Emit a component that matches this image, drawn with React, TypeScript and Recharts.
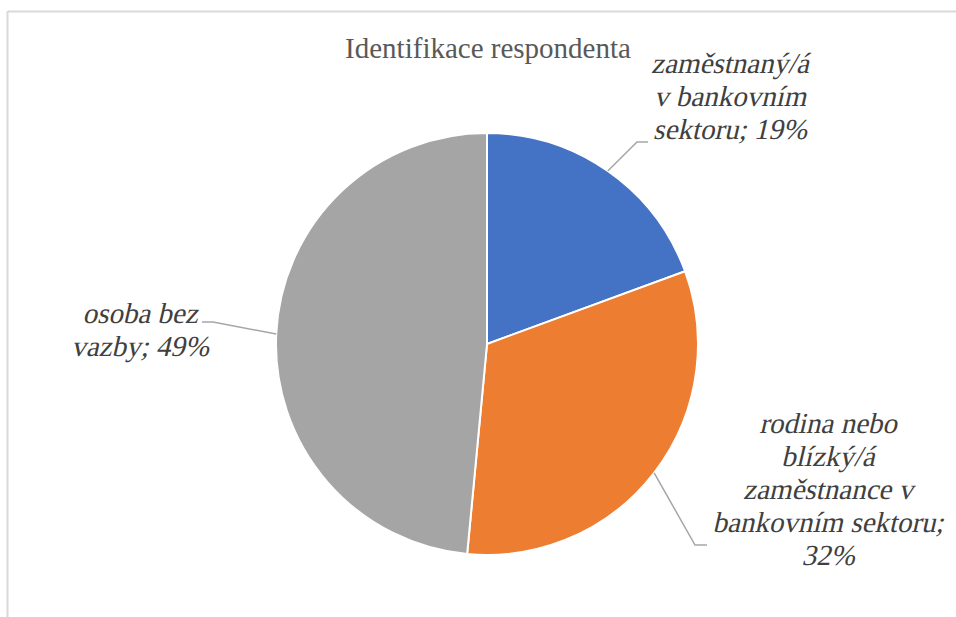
import React from "react";
import { PieChart, Pie, Cell } from "recharts";

const chartTitle = "Identifikace respondenta";
const categories = [
  "zaměstnaný/á v bankovním sektoru",
  "rodina nebo blízký/á zaměstnance v bankovním sektoru",
  "osoba bez vazby",
];
const shares = [19.4, 32.1, 48.5];
const percentLabels = ["19%", "32%", "49%"];
const labelLines = [
  ["zaměstnaný/á", "v bankovním", "sektoru; 19%"],
  ["rodina nebo", "blízký/á", "zaměstnance v", "bankovním sektoru;", "32%"],
  ["osoba bez", "vazby; 49%"],
];
const colors = ["#4472C4", "#ED7D31", "#A5A5A5"];

// label layout (offsets from pie centre): elbow, line end, text centre x, first baseline
const labelLayout = [
  { ex: 150, ey: -202, lx: 161, tx: 243, ty: -271 },
  { ex: 208, ey: 201, lx: 220, tx: 341, ty: 89 },
  { ex: -274, ey: -22, lx: -285, tx: -347, ty: -21 },
];

const data = categories.map((name, i) => ({
  name,
  value: shares[i],
  pct: percentLabels[i],
}));

const FONT = "'Liberation Serif', 'Times New Roman', serif";
const LINE_H = 33;
const LABEL_SIZE = 29;

const RADIAN = Math.PI / 180;

const renderLabel = (props: any) => {
  const { cx, cy, midAngle, outerRadius, index } = props;
  const lay = labelLayout[index];
  const sx = cx + outerRadius * Math.cos(-midAngle * RADIAN);
  const sy = cy + outerRadius * Math.sin(-midAngle * RADIAN);
  const lines = labelLines[index];
  return (
    <g key={`lab-${index}`}>
      <polyline
        points={`${sx},${sy} ${cx + lay.ex},${cy + lay.ey} ${cx + lay.lx},${cy + lay.ey}`}
        fill="none"
        stroke="#A6A6A6"
        strokeWidth={1.5}
      />
      {lines.map((l, j) => (
        <text
          key={j}
          x={0}
          y={0}
          transform={`translate(${cx + lay.tx},${cy + lay.ty + j * LINE_H}) skewX(-13)`}
          textAnchor="middle"
          style={{ fontFamily: FONT, fontSize: LABEL_SIZE, fill: "#404040" }}
        >
          {l}
        </text>
      ))}
    </g>
  );
};

export default function App() {
  return (
    <div style={{ position: "absolute", left: 0, top: 0, width: 956, height: 617, background: "#fff" }}>
      <svg
        width={956}
        height={617}
        style={{ position: "absolute", left: 0, top: 0 }}
      >
        <line x1={8} y1={11.5} x2={956} y2={11.5} stroke="#D9D9D9" strokeWidth={2} />
        <line x1={7.5} y1={11} x2={7.5} y2={617} stroke="#D9D9D9" strokeWidth={2} />
        <text
          x={488}
          y={58}
          textAnchor="middle"
          style={{ fontFamily: FONT, fontSize: 29, fill: "#595959" }}
        >
          {chartTitle}
        </text>
      </svg>
      <div style={{ position: "absolute", left: 0, top: 0 }}>
        <PieChart width={956} height={617} margin={{ top: 0, right: 0, bottom: 0, left: 0 }}>
          <Pie
            data={data}
            dataKey="value"
            nameKey="name"
            cx={487}
            cy={344}
            outerRadius={211}
            startAngle={90}
            endAngle={-270}
            stroke="#FFFFFF"
            strokeWidth={2}
            label={renderLabel}
            labelLine={false}
            isAnimationActive={false}
          >
            {data.map((d, i) => (
              <Cell key={d.name} fill={colors[i]} />
            ))}
          </Pie>
        </PieChart>
      </div>
    </div>
  );
}
